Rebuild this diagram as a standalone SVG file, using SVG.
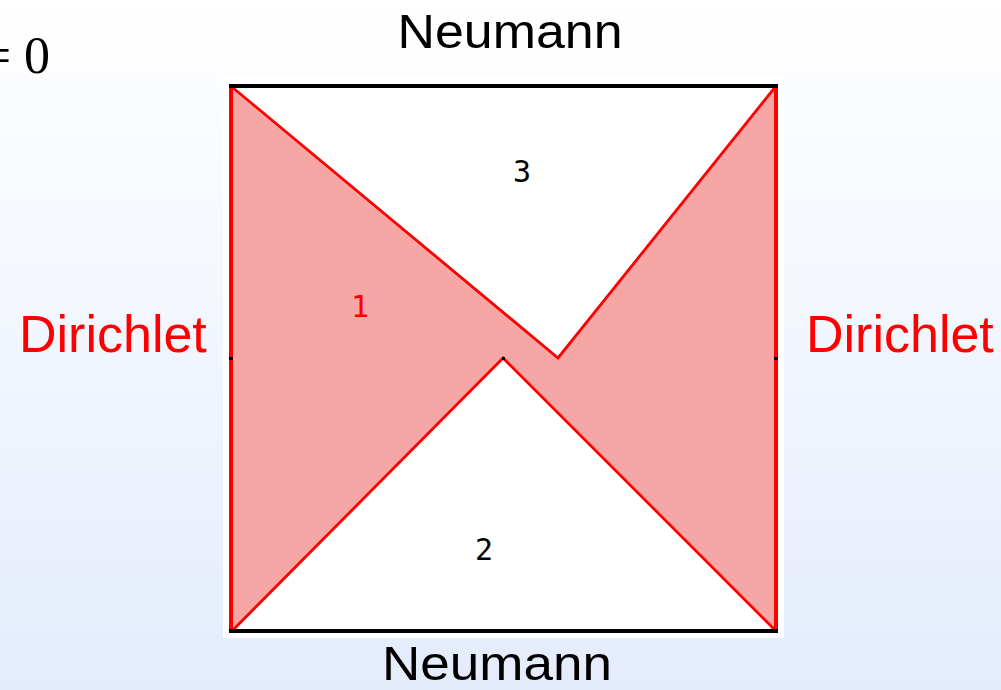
<svg xmlns="http://www.w3.org/2000/svg" width="1001" height="690" viewBox="0 0 1001 690">
  <defs>
    <linearGradient id="bg" x1="0" y1="0" x2="0" y2="1">
      <stop offset="0" stop-color="#ffffff"/>
      <stop offset="1" stop-color="#e4ecfc"/>
    </linearGradient>
  </defs>
  <style>
    .lbl { font-family: "Liberation Sans", Arial, sans-serif; }
    .neu { font-size: 49px; fill: #000; }
    .dir { font-size: 52px; fill: #ff0000; }
    .reg { font-family: "DejaVu Sans Mono", "Liberation Mono", monospace; font-size: 30px; }
    .diag { stroke: #ff0000; stroke-width: 2.8; fill: none; stroke-linejoin: miter; }
  </style>
  <rect x="0" y="0" width="1001" height="690" fill="url(#bg)"/>
  <text x="50" y="73" text-anchor="end" font-family="'Liberation Serif', 'Times New Roman', serif" font-size="52">= 0</text>

  <g id="domain">
    <rect x="223" y="78" width="561" height="560" fill="#ffffff"/>
    <polygon points="231,86 558,358 776,86 776,631 503,358 231,631" fill="#f7a6a6"/>
    <polyline class="diag" points="232,87 558,358 776,86"/>
    <polyline class="diag" points="232,631 503,358 776,631"/>
    <rect x="502" y="357" width="3" height="3" fill="#000"/>
  </g>

  <g id="boundaries">
    <rect id="left-edge" x="229" y="86" width="4" height="545" fill="#ff0000"/>
    <rect id="right-edge" x="774" y="86" width="4" height="545" fill="#ff0000"/>
    <rect id="top-edge" x="229" y="84" width="549" height="4" fill="#000"/>
    <rect id="bottom-edge" x="229" y="629" width="549" height="4" fill="#000"/>
    <rect x="229" y="357" width="4" height="3" fill="#000"/>
    <rect x="774" y="357" width="4" height="3" fill="#000"/>
  </g>

  <g id="region-1"><text class="reg" x="360" y="317" text-anchor="middle" fill="#ff0000">1</text></g>
  <g id="region-2"><text class="reg" x="484" y="560" text-anchor="middle" fill="#000">2</text></g>
  <g id="region-3"><text class="reg" x="522" y="182" text-anchor="middle" fill="#000">3</text></g>

  <g id="label-top"><text class="lbl neu" x="510" y="48" text-anchor="middle" textLength="225" lengthAdjust="spacingAndGlyphs">Neumann</text></g>
  <g id="label-bottom"><text class="lbl neu" x="497" y="680" text-anchor="middle" textLength="230" lengthAdjust="spacingAndGlyphs">Neumann</text></g>
  <g id="label-left"><text class="lbl dir" x="19" y="352">Dirichlet</text></g>
  <g id="label-right"><text class="lbl dir" x="806" y="352">Dirichlet</text></g>
</svg>
